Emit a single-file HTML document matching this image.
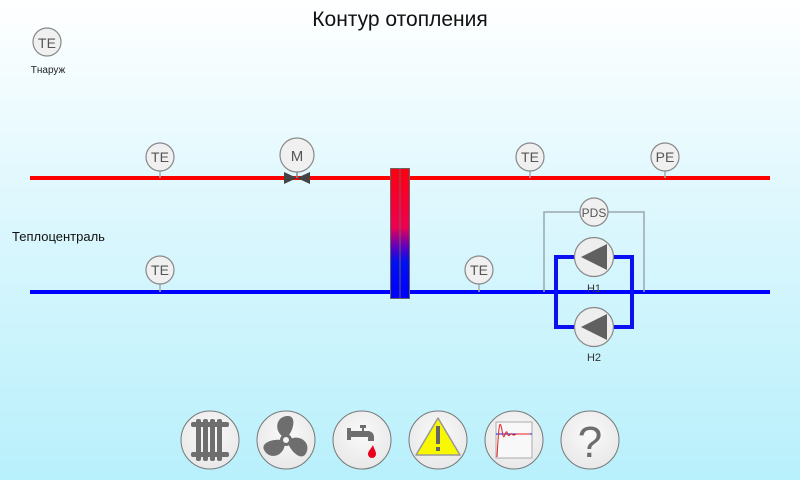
<!DOCTYPE html>
<html><head><meta charset="utf-8"><style>
html,body{margin:0;padding:0;}
body{width:800px;height:480px;overflow:hidden;background:linear-gradient(#ffffff 0%,#dcf7fd 45%,#b8f0fc 100%);font-family:"Liberation Sans","DejaVu Sans",sans-serif;}
</style></head><body>
<svg width="800" height="480" xmlns="http://www.w3.org/2000/svg" font-family="Liberation Sans, DejaVu Sans, sans-serif">
<defs>
<linearGradient id="hx" x1="0" y1="0" x2="0" y2="1">
<stop offset="0" stop-color="#ff0010"/><stop offset="0.45" stop-color="#f00050"/><stop offset="0.6" stop-color="#6000c0"/><stop offset="0.72" stop-color="#0010f0"/><stop offset="1" stop-color="#0000ff"/>
</linearGradient>
<radialGradient id="bt" cx="0.5" cy="0.4" r="0.6"><stop offset="0" stop-color="#fafafa"/><stop offset="1" stop-color="#e8e8e8"/></radialGradient>
</defs>
<text x="400" y="26" text-anchor="middle" font-size="21" fill="#111">Контур отопления</text>
<!-- outdoor TE -->
<circle cx="47" cy="42" r="14" fill="#f0f0f0" stroke="#888" stroke-width="1.2"/>
<text x="47" y="48" text-anchor="middle" font-size="14" fill="#555">TE</text>
<text x="48" y="73" text-anchor="middle" font-size="10" fill="#222">Тнаруж</text>
<text x="12" y="241" font-size="13" fill="#111">Теплоцентраль</text>
<!-- lines -->
<line x1="30" y1="178" x2="770" y2="178" stroke="#ff0000" stroke-width="4"/>
<line x1="30" y1="292" x2="770" y2="292" stroke="#0000ff" stroke-width="4"/>
<!-- sensor stems -->
<g stroke="#aaa" stroke-width="1.5">
<line x1="160" y1="170" x2="160" y2="178"/><line x1="530" y1="170" x2="530" y2="178"/><line x1="665" y1="170" x2="665" y2="178"/>
<line x1="160" y1="283" x2="160" y2="292"/><line x1="479" y1="283" x2="479" y2="292"/>
</g>
<polyline points="544,292 544,212 644,212 644,292" fill="none" stroke="#9aa8ae" stroke-width="1.5"/>
<!-- blue loop -->
<rect x="556" y="257" width="76" height="70" fill="none" stroke="#0a10f0" stroke-width="4"/>
<!-- sensors -->
<g fill="#f0f0f0" stroke="#888" stroke-width="1.2">
<circle cx="160" cy="157" r="14"/><circle cx="530" cy="157" r="14"/><circle cx="665" cy="157" r="14"/>
<circle cx="160" cy="270" r="14"/><circle cx="479" cy="270" r="14"/><circle cx="594" cy="212" r="14"/>
<circle cx="297" cy="155" r="17"/>
</g>
<g font-size="14" fill="#555" text-anchor="middle">
<text x="160" y="162">TE</text><text x="530" y="162">TE</text><text x="665" y="162">PE</text>
<text x="160" y="275">TE</text><text x="479" y="275">TE</text><text x="297" y="161" font-size="15">M</text>
<text x="594" y="217" font-size="12">PDS</text>
</g>
<!-- valve -->
<polygon points="284,172 297,178 284,184" fill="#444"/><polygon points="310,172 297,178 310,184" fill="#444"/>
<line x1="297" y1="172" x2="297" y2="178" stroke="#888" stroke-width="1.5"/>
<!-- heat exchanger -->
<rect x="390.5" y="168.5" width="19" height="130" fill="url(#hx)" stroke="#666" stroke-width="1"/>
<line x1="400" y1="169" x2="400" y2="298" stroke="#666" stroke-width="1"/>
<!-- pumps -->
<g>
<circle cx="594" cy="257" r="19.5" fill="#eeeeee" stroke="#888" stroke-width="1.2"/>
<polygon points="581,257 607,244 607,270" fill="#606060"/>
<circle cx="594" cy="327" r="19.5" fill="#eeeeee" stroke="#888" stroke-width="1.2"/>
<polygon points="581,327 607,314 607,340" fill="#606060"/>
</g>
<text x="594" y="292" text-anchor="middle" font-size="11" fill="#333">H1</text>
<text x="594" y="361" text-anchor="middle" font-size="11" fill="#333">H2</text>
<!-- buttons -->
<g fill="url(#bt)" stroke="#777" stroke-width="1">
<circle cx="210" cy="440" r="29"/><circle cx="286" cy="440" r="29"/><circle cx="362" cy="440" r="29"/>
<circle cx="438" cy="440" r="29"/><circle cx="514" cy="440" r="29"/><circle cx="590" cy="440" r="29"/>
</g>
<!-- radiator -->
<g fill="#6e6e6e">
<rect x="191" y="422" width="38" height="5" rx="2"/><rect x="191" y="452" width="38" height="5" rx="2"/>
<rect x="196" y="419" width="5" height="42" rx="2"/><rect x="203" y="419" width="5" height="42" rx="2"/><rect x="210" y="419" width="5" height="42" rx="2"/><rect x="217" y="419" width="5" height="42" rx="2"/>
</g>
<!-- fan -->
<g fill="#6e6e6e" transform="translate(286,440)">
<path d="M-4,-4 C-12,-10 -10,-24 2,-24 C10,-24 8,-12 3,-5 Z"/>
<path d="M-4,-4 C-12,-10 -10,-24 2,-24 C10,-24 8,-12 3,-5 Z" transform="rotate(120)"/>
<path d="M-4,-4 C-12,-10 -10,-24 2,-24 C10,-24 8,-12 3,-5 Z" transform="rotate(240)"/>
<circle r="6"/><circle r="3" fill="#f4f4f4"/>
</g>
<!-- tap -->
<g fill="#6e6e6e">
<rect x="347" y="428" width="4" height="12"/><rect x="351" y="431" width="18" height="6"/>
<path d="M362,431 h6 a6,6 0 0 1 6,6 v4 h-6 v-4 h-6 z"/>
<rect x="360" y="425" width="6" height="3"/><rect x="362" y="427" width="2" height="5"/>
</g>
<path d="M373,445 C371,449 368,451 368,454 a4,4 0 0 0 8,0 C376,451 374,449 373,445 Z" fill="#e8001a"/>
<!-- warning -->
<path d="M438,418 L460,455 L416,455 Z" fill="#f8f800" stroke="#999" stroke-width="1.5" stroke-linejoin="round"/>
<rect x="436" y="426" width="4" height="18" fill="#666"/><rect x="436" y="447" width="4" height="4" fill="#666"/>
<!-- chart -->
<rect x="496" y="422" width="36" height="36" fill="#f8f8f8" stroke="#aaa" stroke-width="1"/>
<line x1="496" y1="434" x2="532" y2="434" stroke="#1020e0" stroke-width="1"/>
<path d="M497,457 C499,420 500,420 502,430 C504,445 505,430 507,432 C509,440 510,432 512,434 C514,437 516,433 518,434 L530,434" fill="none" stroke="#e82020" stroke-width="1"/>
<!-- question -->
<text x="590" y="457" text-anchor="middle" font-size="44" fill="#6e6e6e">?</text>
</svg>
</body></html>
